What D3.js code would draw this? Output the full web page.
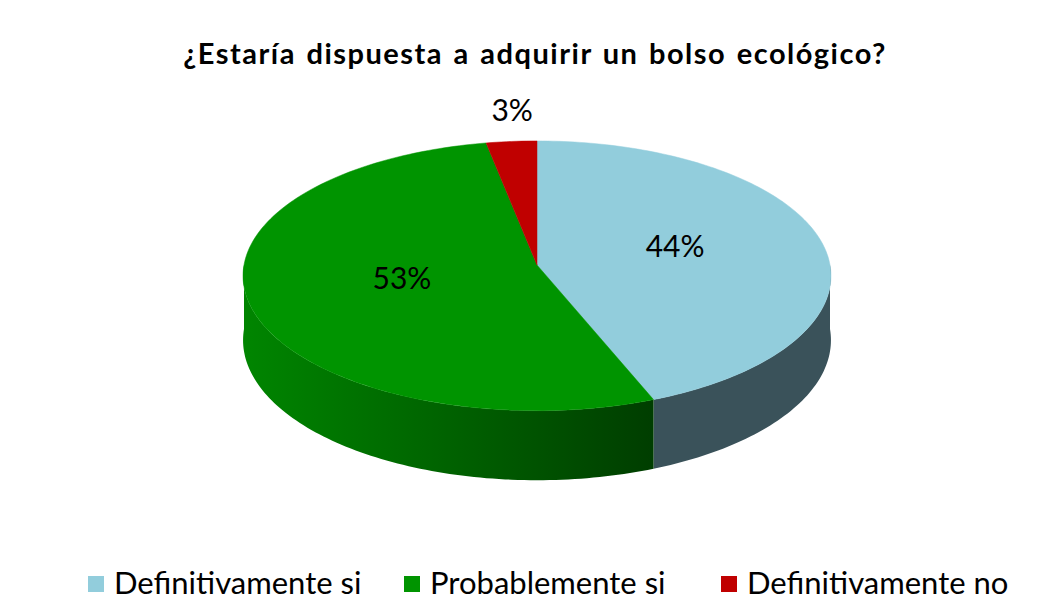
<!DOCTYPE html>
<html>
<head>
<meta charset="utf-8">
<script src="https://cdn.jsdelivr.net/npm/d3@7"></script>
<style>
  body { margin: 0; background: #fff; }
  svg { display: block; font-family: Lato, "Open Sans", sans-serif; }
</style>
</head>
<body>
<div id="chart"></div>
<script>
'use strict';

var title = '¿Estaría dispuesta a adquirir un bolso ecológico?';
var categories = ['Definitivamente si', 'Probablemente si', 'Definitivamente no'];
var values = [44, 53, 3];
var topColors = ['#92cddc', '#009400', '#c00000'];
var sideColors = ['#3a525a', 'url(#greenSide)', '#600000'];

var width = 1052, height = 601;
// pie centre, radii, thickness and perspective strength
var cx = 537, cy = 265, rx = 293, ry = 134, depth = 64, persp = 0.08;

var svg = d3.select('#chart').append('svg')
    .attr('width', width)
    .attr('height', height);

var defs = svg.append('defs');
var grad = defs.append('linearGradient')
    .attr('id', 'greenSide')
    .attr('gradientUnits', 'userSpaceOnUse')
    .attr('x1', cx - rx).attr('x2', 662)
    .attr('y1', 0).attr('y2', 0);
grad.append('stop').attr('offset', '0%').attr('stop-color', '#008500');
grad.append('stop').attr('offset', '60%').attr('stop-color', '#005a00');
grad.append('stop').attr('offset', '100%').attr('stop-color', '#003c00');

var pie = d3.pie().sort(null).value(function(d) { return d; });
var arcs = pie(values);

// project a point of the disc (angle a, radius fraction f, drop h) to screen
function proj(a, f, h) {
  var u = f * Math.sin(a), w = -f * Math.cos(a);
  var s = 1 / (1 - persp * w);
  return [cx + rx * u * s, cy + (ry * w + (h || 0)) * s];
}

var line = d3.line();

function arcPts(a, b, h) {
  var n = Math.max(2, Math.ceil(Math.abs(b - a) / 0.02));
  return d3.range(n + 1).map(function(i) { return proj(a + (b - a) * i / n, 1, h); });
}

// side walls (front half only)
function sidePath(d) {
  var a = Math.max(d.startAngle, Math.PI / 2);
  var b = Math.min(d.endAngle, 3 * Math.PI / 2);
  if (a >= b) return null;
  var pts = arcPts(a, b, 0).concat(arcPts(b, a, depth));
  return line(pts) + 'Z';
}

svg.append('g').selectAll('path')
    .data(arcs.filter(function(d) { return sidePath(d); }))
  .enter().append('path')
    .attr('d', sidePath)
    .attr('fill', function(d) { return sideColors[d.index]; });

// top face
function topPath(d) {
  return line([proj(0, 0)].concat(arcPts(d.startAngle, d.endAngle, 0))) + 'Z';
}
svg.append('g').selectAll('path')
    .data(arcs)
  .enter().append('path')
    .attr('d', topPath)
    .attr('fill', function(d, i) { return topColors[i]; })
    .attr('stroke', function(d, i) { return topColors[i]; })
    .attr('stroke-width', 0.5);

// labels
var pct = d3.format('.0%');
var total = d3.sum(values);
svg.append('g').selectAll('text')
    .data(arcs)
  .enter().append('text')
    .attr('text-anchor', 'middle')
    .attr('dominant-baseline', 'central')
    .attr('font-size', 30)
    .attr('fill', '#000')
    .attr('x', function(d) {
      var m = (d.startAngle + d.endAngle) / 2;
      var f = d.value / total < 0.05 ? 0.9 : 0.48;
      return cx + rx * f * Math.sin(m);
    })
    .attr('y', function(d) {
      var m = (d.startAngle + d.endAngle) / 2;
      if (d.value / total < 0.05) return cy - (ry + 23) * Math.cos(m);
      return cy - ry * 0.5 * Math.cos(m) - 7;
    })
    .text(function(d) { return pct(d.value / total); });

// title
svg.append('text')
    .attr('x', 535).attr('y', 64)
    .attr('text-anchor', 'middle')
    .attr('font-size', 29)
    .attr('font-weight', 'bold')
    .attr('letter-spacing', 1.5)
    .attr('word-spacing', 2)
    .text(title);

// legend
var legendX = [88, 404, 721];
var lg = svg.append('g').selectAll('g')
    .data(categories)
  .enter().append('g')
    .attr('transform', function(d, i) { return 'translate(' + legendX[i] + ',594)'; });
lg.append('rect')
    .attr('x', 0).attr('y', -18)
    .attr('width', 16).attr('height', 16)
    .attr('fill', function(d, i) { return topColors[i]; });
lg.append('text')
    .attr('x', 26)
    .attr('font-size', 31)
    .text(function(d) { return d; });
</script>
</body>
</html>
